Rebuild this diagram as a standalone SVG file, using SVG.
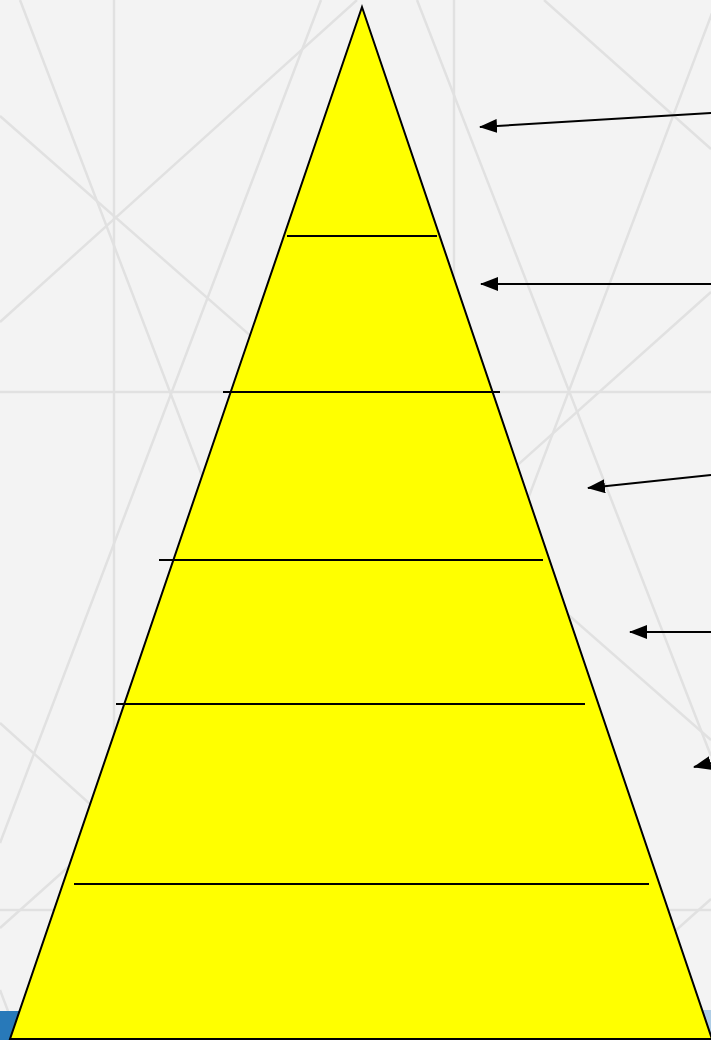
<svg xmlns="http://www.w3.org/2000/svg" width="711" height="1040" viewBox="0 0 711 1040">
<defs>
<marker id="ah" markerWidth="18" markerHeight="14" refX="17" refY="7" orient="auto" markerUnits="userSpaceOnUse">
<path d="M0,0 L18,7 L0,14 Z" fill="#000"/>
</marker>
<style>
.bg{stroke:#e1e1e1;stroke-width:2.5;fill:none}
.tier{stroke:#000;stroke-width:2;fill:none}
.arrow{stroke:#000;stroke-width:2;fill:none}
</style>
</defs>
<rect x="0" y="0" width="711" height="1040" fill="#f3f3f3"/>
<g id="background">
<line class="bg" x1="114" y1="0" x2="114" y2="1040"/>
<line class="bg" x1="454" y1="0" x2="454" y2="1040"/>
<line class="bg" x1="0" y1="392" x2="711" y2="392"/>
<line class="bg" x1="0" y1="910" x2="711" y2="910"/>
<line class="bg" x1="0" y1="116" x2="711" y2="740"/>
<line class="bg" x1="544" y1="0" x2="711" y2="149"/>
<line class="bg" x1="0" y1="723" x2="352" y2="1040"/>
<line class="bg" x1="0" y1="322" x2="357" y2="0"/>
<line class="bg" x1="0" y1="928" x2="711" y2="292"/>
<line class="bg" x1="553" y1="1040" x2="711" y2="899"/>
<line class="bg" x1="20" y1="0" x2="418" y2="1040"/>
<line class="bg" x1="417" y1="0" x2="711" y2="756"/>
<line class="bg" x1="0" y1="990" x2="19" y2="1040"/>
<line class="bg" x1="321" y1="0" x2="0" y2="843"/>
<line class="bg" x1="717" y1="0" x2="323" y2="1040"/>
</g>
<rect x="0" y="1011" width="60" height="29" fill="#2879b9"/>
<rect x="660" y="1010" width="51" height="30" fill="#aecde6"/>
<g id="pyramid">
<polygon points="362,7 10,1039 712,1039" fill="#ffff00" stroke="#000" stroke-width="2" stroke-linejoin="miter"/>
</g>
<g id="tiers">
<line class="tier" x1="287" y1="236" x2="437" y2="236"/>
<line class="tier" x1="223" y1="392" x2="500" y2="392"/>
<line class="tier" x1="159" y1="560" x2="543" y2="560"/>
<line class="tier" x1="116" y1="704" x2="585" y2="704"/>
<line class="tier" x1="74" y1="884" x2="649" y2="884"/>
</g>
<g id="connectors">
<line class="arrow" x1="711" y1="113" x2="480" y2="127" marker-end="url(#ah)"/>
<line class="arrow" x1="711" y1="284" x2="481" y2="284" marker-end="url(#ah)"/>
<line class="arrow" x1="711" y1="475" x2="588" y2="488" marker-end="url(#ah)"/>
<line class="arrow" x1="711" y1="632" x2="630" y2="632" marker-end="url(#ah)"/>
<line class="arrow" x1="711" y1="763" x2="694" y2="767" marker-end="url(#ah)"/>
</g>
</svg>
